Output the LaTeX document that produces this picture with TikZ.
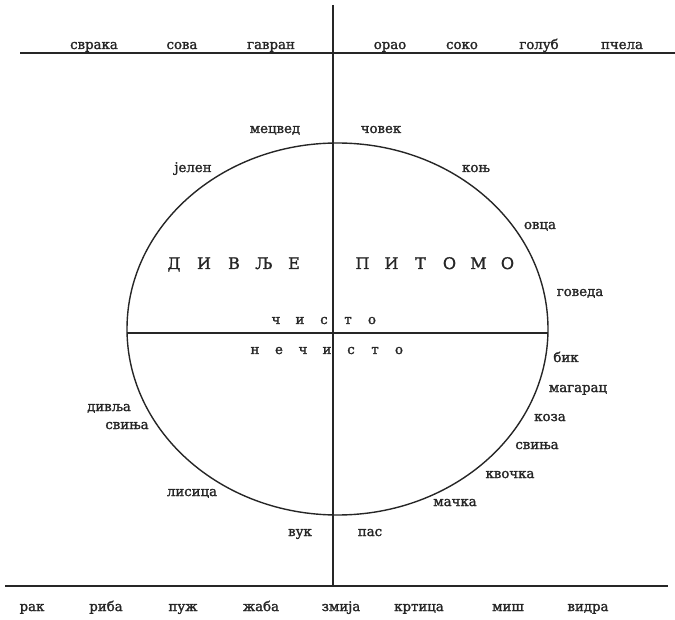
\documentclass[tikz,border=0pt]{standalone}
\usepackage{fontspec}
\setmainfont{DejaVu Serif}
\newfontfamily\lblfont{DejaVu Serif}[FakeBold=1.6]
\begin{document}
\begin{tikzpicture}[x=1pt,y=-1pt,
  lbl/.style={inner sep=0pt,anchor=base,font=\lblfont\fontsize{13.3}{15}\selectfont,text=black!85},
  capslbl/.style={inner sep=0pt,anchor=base,font=\lblfont\fontsize{16}{18}\selectfont,text=black!85},
  ln/.style={line width=1.4pt,draw=black!85}]
\useasboundingbox (0,0) rectangle (675,620);
% axes
\coordinate (vt) at (333,5);
\coordinate (vb) at (333,585);
\coordinate (tl) at (20,53);
\coordinate (tr) at (675,53);
\coordinate (bl) at (5,586);
\coordinate (br) at (668,586);
\coordinate (ml) at (127,333);
\coordinate (mr) at (548,333);
\coordinate (ec) at (337.5,329);
\draw[ln] (vt) -- (vb);
\draw[ln] (tl) -- (tr);
\draw[ln] (bl) -- (br);
\draw[ln] (ml) -- (mr);
\draw[ln] (ec) ellipse [x radius=210.5pt, y radius=186pt];
% top row
\node[lbl] (svraka) at (94,49) {сврака};
\node[lbl] (sova) at (182,49) {сова};
\node[lbl] (gavran) at (271,49) {гавран};
\node[lbl] (orao) at (390,49) {орао};
\node[lbl] (soko) at (462,49) {соко};
\node[lbl] (golub) at (539,49) {голуб};
\node[lbl] (pcela) at (622,49) {пчела};
% around ellipse
\node[lbl] (medved) at (275,133) {мецвед};
\node[lbl] (covek) at (381,133) {човек};
\node[lbl] (jelen) at (193,172) {јелен};
\node[lbl] (konj) at (476,172) {коњ};
\node[lbl] (ovca) at (540,229) {овца};
\node[lbl] (goveda) at (580,296) {говеда};
\node[lbl] (bik) at (566,362) {бик};
\node[lbl] (magarac) at (578,392) {магарац};
\node[lbl] (koza) at (550,421) {коза};
\node[lbl] (svinja) at (537,449) {свиња};
\node[lbl] (kvocka) at (510,478) {квочка};
\node[lbl] (macka) at (455,506) {мачка};
\node[lbl] (pas) at (370,536) {пас};
\node[lbl] (vuk) at (300,536) {вук};
\node[lbl] (lisica) at (192,496) {лисица};
\node[lbl] (divlja) at (109,411) {дивља};
\node[lbl] (svinja2) at (127,429) {свиња};
% inner
\node[capslbl] (divlje) at (234,269) {\makebox[30pt]{Д}\makebox[30pt]{И}\makebox[30pt]{В}\makebox[30pt]{Љ}\makebox[30pt]{Е}};
\node[capslbl] (pitomo) at (435,269) {\makebox[29pt]{П}\makebox[29pt]{И}\makebox[29pt]{Т}\makebox[29pt]{О}\makebox[29pt]{М}\makebox[29pt]{О}};
\node[lbl] (cisto) at (324,324) {\makebox[24pt]{ч}\makebox[24pt]{и}\makebox[24pt]{с}\makebox[24pt]{т}\makebox[24pt]{о}};
\node[lbl] (necisto) at (327,354) {\makebox[24pt]{н}\makebox[24pt]{е}\makebox[24pt]{ч}\makebox[24pt]{и}\makebox[24pt]{с}\makebox[24pt]{т}\makebox[24pt]{о}};
% bottom row
\node[lbl] (rak) at (32,611) {рак};
\node[lbl] (riba) at (106,611) {риба};
\node[lbl] (puz) at (183,611) {пуж};
\node[lbl] (zaba) at (261,611) {жаба};
\node[lbl] (zmija) at (341,611) {змија};
\node[lbl] (krtica) at (419,611) {кртица};
\node[lbl] (mis) at (508,611) {миш};
\node[lbl] (vidra) at (588,611) {видра};
\end{tikzpicture}
\end{document}
